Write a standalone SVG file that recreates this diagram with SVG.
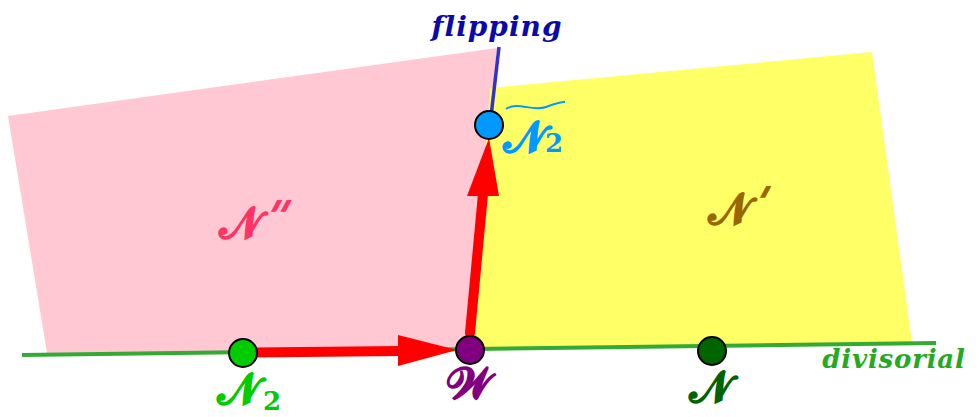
<svg xmlns="http://www.w3.org/2000/svg" width="979" height="417" viewBox="0 0 979 417">
<style>
.lbl{font-family:"DejaVu Serif","Liberation Serif",serif;font-weight:bold;font-style:italic}
.cal{font-family:"DejaVu Serif","Liberation Serif",serif;font-weight:bold}
.sub{font-family:"DejaVu Serif","Liberation Serif",serif;font-weight:bold}
.pr{font-family:"DejaVu Sans","Liberation Sans",sans-serif;font-weight:bold}
.pt{stroke:#000;stroke-width:2}
.arr{stroke:#ff0000;stroke-width:10;stroke-linecap:round}
</style>
<g id="region-Npp"><polygon points="8,116 497,48 471,350 47,353" fill="#ffc8d2"/></g>
<g id="region-Np"><polygon points="490,88 872,52 912,343 471,349" fill="#ffff66"/></g>
<g id="connectors">
<line x1="22" y1="355" x2="936" y2="343" stroke="#33aa33" stroke-width="4"/>
<line x1="499" y1="47" x2="490" y2="125" stroke="#3333cc" stroke-width="3.5"/>
<line class="arr" x1="243" y1="352.5" x2="402" y2="351" stroke-linecap="butt"/>
<polygon points="398,335 457,350 398,366" fill="#ff0000"/>
<line class="arr" x1="470" y1="333" x2="483" y2="194"/>
<polygon points="467,196 499,196 489,138" fill="#ff0000"/>
</g>
<g id="node-N2"><circle class="pt" cx="243" cy="353" r="14" fill="#00cc00"/><text class="cal" x="238" y="404" font-size="44" fill="#00cc00" text-anchor="middle">𝓝</text><text class="sub" x="263" y="410" font-size="26" fill="#00cc00">2</text></g>
<g id="node-W"><circle class="pt" cx="470" cy="350" r="14" fill="#800080"/><text class="cal" x="470" y="399" font-size="44" fill="#800080" text-anchor="middle">𝓦</text></g>
<g id="node-N"><circle class="pt" cx="712" cy="351" r="14" fill="#006400"/><text class="cal" x="710" y="402" font-size="44" fill="#006400" text-anchor="middle">𝓝</text></g>
<g id="node-N2t"><circle class="pt" cx="489" cy="125" r="14" fill="#0099ff"/><text class="cal" x="524" y="152" font-size="44" fill="#0099ff" text-anchor="middle">𝓝</text><text class="sub" x="545" y="152" font-size="26" fill="#0099ff">2</text><path d="M506,109 C518,101 532,112 546,107 C554,104 560,102 565,102" fill="none" stroke="#0099ff" stroke-width="2"/></g>
<g id="label-Npp"><text class="cal" x="240" y="238" font-size="44" fill="#ff3366" text-anchor="middle">𝓝</text><text class="pr" transform="translate(256,232) skewX(-28)" font-size="44" fill="#ff3366" letter-spacing="-4">''</text></g>
<g id="label-Np"><text class="cal" x="729" y="224" font-size="44" fill="#996600" text-anchor="middle">𝓝</text><text class="pr" transform="translate(745,218) skewX(-28)" font-size="44" fill="#996600">'</text></g>
<g id="label-flipping"><text class="lbl" x="497" y="36" font-size="28" fill="#0a0aaa" text-anchor="middle" letter-spacing="1">flipping</text></g>
<g id="label-divisorial"><text class="lbl" x="894" y="368" font-size="26" fill="#22aa22" text-anchor="middle" letter-spacing="0.8">divisorial</text></g>
</svg>
